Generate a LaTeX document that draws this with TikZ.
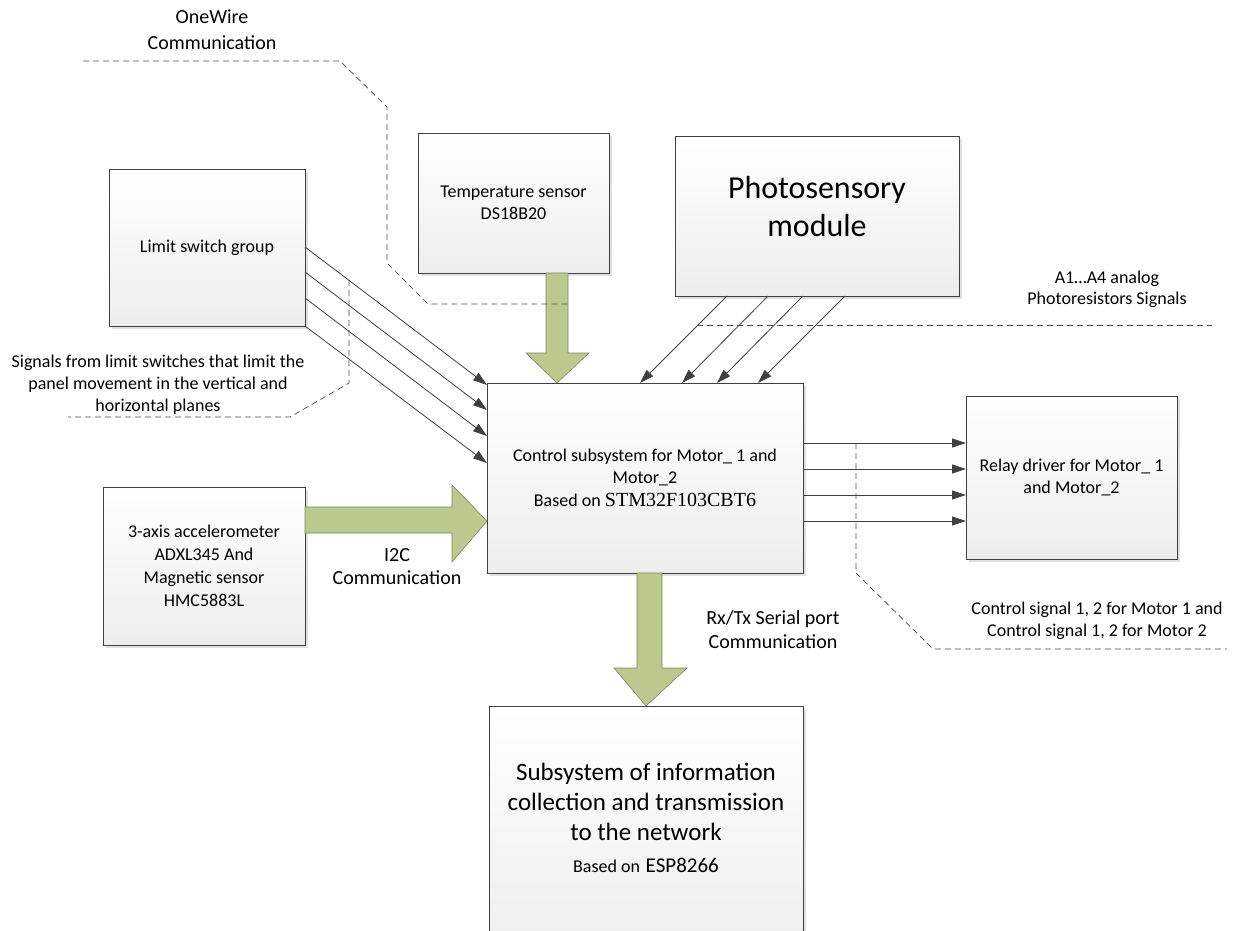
\documentclass[tikz,border=0pt]{standalone}
\usepackage{fontspec}
\setmainfont{Carlito}
\newfontfamily\tmsfont{Liberation Serif}
\usetikzlibrary{shadows,arrows.meta,calc}
\definecolor{grn}{RGB}{188,201,142}
\definecolor{grnedge}{RGB}{125,135,95}
\definecolor{edge}{RGB}{64,64,64}
\begin{document}
\begin{tikzpicture}[x=1pt,y=-1pt,
 boxst/.style={draw=edge, line width=0.8pt, top color=white, bottom color=black!7,
   drop shadow={shadow xshift=2.5pt, shadow yshift=-2.5pt, fill=black!20, opacity=0.6},
   inner sep=0pt, outer sep=0pt, align=center, font=\fontsize{18}{22}\selectfont},
 lbl/.style={align=center, inner sep=0pt, font=\fontsize{18}{22}\selectfont},
 sig/.style={draw=edge, line width=0.8pt, -{Triangle[length=14pt,width=9pt]}},
 fat/.style={fill=grn, draw=grnedge, line width=0.6pt, line join=miter},
 lead/.style={draw=black!70, line width=0.7pt, dash pattern=on 6pt off 4pt}]
\useasboundingbox (0,0) rectangle (1240,930);
\clip (0,0) rectangle (1240,930);

% boxes
\node[boxst, minimum width=196pt, minimum height=157pt] (limit) at (207,247.5) {Limit switch group};
\node[boxst, minimum width=191pt, minimum height=140pt] (temp) at (513.5,203) {Temperature sensor\\DS18B20};
\node[boxst, minimum width=284pt, minimum height=160pt] (photo) at (817,216) {};
\node[lbl, font=\fontsize{32}{38}\selectfont] (photoT) at (817,207) {Photosensory\\module};
\node[boxst, minimum width=316pt, minimum height=190pt] (ctrl) at (645,478)
  {Control subsystem for Motor\_ 1 and\\Motor\_2\\[1pt]Based on {\tmsfont\fontsize{20}{22}\selectfont STM32F103CBT6}};
\node[boxst, minimum width=211pt, minimum height=163pt] (relay) at (1071.5,477.5) {Relay driver for Motor\_ 1\\and Motor\_2};
\node[boxst, minimum width=202pt, minimum height=158pt, font=\fontsize{18}{23}\selectfont] (accel) at (204,566)
  {3-axis accelerometer\\ADXL345 And\\Magnetic sensor\\HMC5883L};
\node[boxst, minimum width=314pt, minimum height=254pt] (netsys) at (646,833) {};
\node[lbl, font=\fontsize{25}{30}\selectfont] (netsysT) at (646,818)
  {Subsystem of information\\collection and transmission\\to the network\\[2pt]{\fontsize{18}{30}\selectfont Based on} {\fontsize{21}{30}\selectfont ESP8266}};

% labels
\node[lbl, font=\fontsize{20}{26}\selectfont] (owl) at (212,30) {OneWire\\Communication};
\node[lbl, font=\fontsize{20}{23}\selectfont] (i2cl) at (397,567) {I2C\\Communication};
\node[lbl, font=\fontsize{20}{24}\selectfont] (rxl) at (773,630) {Rx/Tx Serial port\\Communication};
\node[lbl, font=\fontsize{18}{21}\selectfont] (a1l) at (1107,289) {A1…A4 analog\\Photoresistors Signals};
\node[lbl] (csl) at (1097,621) {Control signal 1, 2 for Motor 1 and\\Control signal 1, 2 for Motor 2};
\node[lbl] (lsl) at (158,385) {Signals from limit switches that limit the\\panel movement in the vertical and\\horizontal planes};

% thin signal arrows
\foreach \ya/\yb in {247/385, 272/410, 298/436, 326/463}
  \draw[sig] (limit.east |- 0,\ya) -- (ctrl.west |- 0,\yb);
\foreach \xa/\xb in {727/640, 768/682, 803/717, 845/758}
  \draw[sig] (\xa,0 |- photo.south) -- (\xb,0 |- ctrl.north);
\foreach \y in {443,469,495,521}
  \draw[sig] (ctrl.east |- 0,\y) -- (relay.west |- 0,\y);

% fat green arrows
\draw[fat] (546,0 |- temp.south) -- (546,353) -- (526,353) -- (557,0 |- ctrl.north)
  -- (589,353) -- (568,353) -- (568,0 |- temp.south) -- cycle;
\draw[fat] (accel.east |- 0,507) -- (452,507) -- (452,485) -- (ctrl.west |- 0,521)
  -- (452,562) -- (452,533) -- (accel.east |- 0,533) -- cycle;
\draw[fat] (637,0 |- ctrl.south) -- (637,668) -- (614,668) -- (netsys.north)
  -- (687,668) -- (662,668) -- (662,0 |- ctrl.south) -- cycle;

% dashed leaders
\coordinate (owA) at (83,61);
\coordinate (owB) at (568,304);
\draw[lead] (owA) -- (340,61) -- (387,107) -- (387,263) -- (428,304) -- (owB);
\coordinate (lsA) at (349,280);
\coordinate (lsB) at (68,417);
\draw[lead] (lsA) -- (349,383) -- (290,417) -- (lsB);
\coordinate (a1A) at (697,325);
\coordinate (a1B) at (1212,325);
\draw[lead] (a1A) -- (a1B);
\coordinate (csA) at (856,443);
\coordinate (csB) at (1227,649);
\draw[lead] (csA) -- (856,573) -- (933,649) -- (csB);
\end{tikzpicture}
\end{document}
